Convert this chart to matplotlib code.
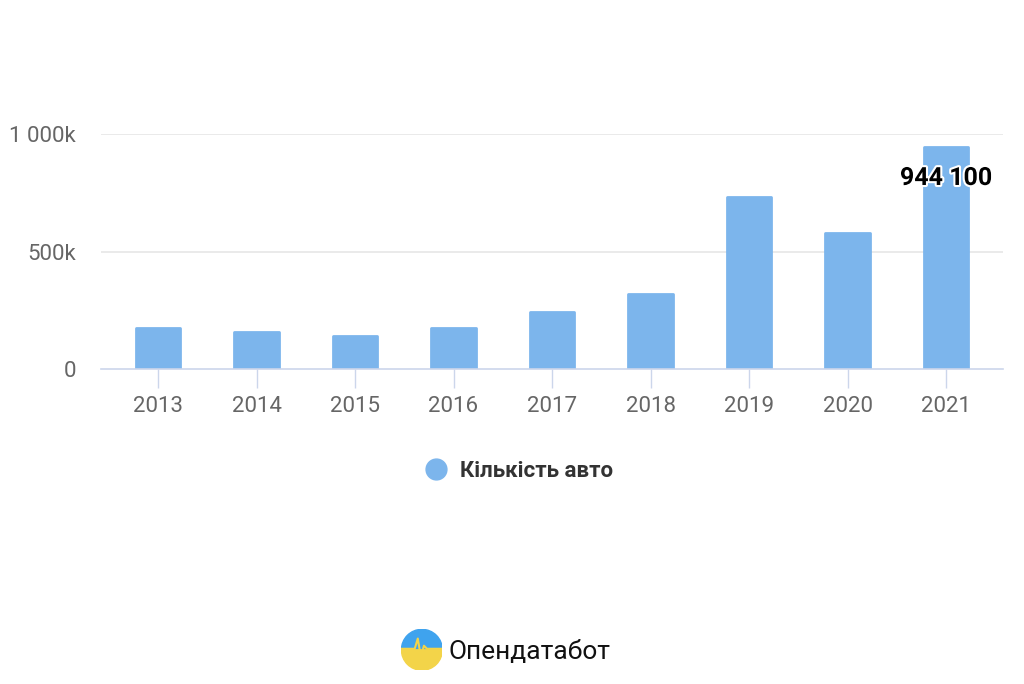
import matplotlib.pyplot as plt
from matplotlib.lines import Line2D
from matplotlib.patches import Wedge
import matplotlib.patheffects as pe

# ============= Data
years = ['2013', '2014', '2015', '2016', '2017', '2018', '2019', '2020', '2021']
cars = [178000, 161000, 141000, 178000, 244000, 320000, 732000, 581000, 944100]
yTicks = [0, 500000, 1000000]
yTickLabels = ['0', '500k', '1 000k']
seriesName = 'Кількість авто'
labelText = '944 100'
barColor = '#7cb5ec'

plt.rcParams['font.family'] = ['Roboto', 'DejaVu Sans']

fig = plt.figure(figsize=(10.24, 6.84), dpi=100)
ax = fig.add_axes([0.0986, 0.46, 0.881, 0.3437])

x = list(range(len(years)))
ax.bar(x, cars, width=0.45, color=barColor, edgecolor=barColor,
       linewidth=2, joinstyle='round', zorder=3)

ax.set_xlim(-0.58, len(years) - 1 + 0.58)
ax.set_ylim(0, 1000000)
ax.set_yticks(yTicks)
ax.set_yticklabels(yTickLabels)
ax.set_xticks(x)
ax.set_xticklabels(years)

for v in yTicks[1:]:
    ax.axhline(v, color='#e6e6e6', linewidth=1.2, zorder=1)

for s in ['top', 'right', 'left']:
    ax.spines[s].set_visible(False)
ax.spines['bottom'].set_color('#ccd6eb')
ax.spines['bottom'].set_linewidth(1.2)
ax.spines['bottom'].set_zorder(4)

ax.tick_params(axis='x', colors='#ccd6eb', length=14, width=1, pad=5,
               labelcolor='#666666', labelsize=16)
ax.tick_params(axis='y', length=0, pad=18, labelcolor='#666666', labelsize=16)
for lbl in ax.get_yticklabels():
    lbl.set_y(lbl.get_position()[1])

# data label on the last bar
ax.text(x[-1], cars[-1] - 130000, labelText, ha='center', va='center',
        fontsize=18, fontweight='bold', color='black', zorder=5,
        path_effects=[pe.withStroke(linewidth=3, foreground='white')])

# legend
handle = Line2D([], [], marker='o', linestyle='none', markersize=15,
                markerfacecolor=barColor, markeredgecolor=barColor)
fig.legend([handle], [seriesName], loc='center', bbox_to_anchor=(0.507, 0.312),
           frameon=False, handlelength=1, handletextpad=0.6,
           prop={'family': 'Roboto', 'weight': 'bold', 'size': 16},
           labelcolor='#333333')

# logo
logo = fig.add_axes([0.392, 0.02, 0.04, 0.06])
logo.set_xlim(-1, 1)
logo.set_ylim(-1, 1)
logo.set_aspect('equal')
logo.axis('off')
logo.add_patch(Wedge((0, 0), 1, 0, 180, color='#3fa3ee'))
logo.add_patch(Wedge((0, 0), 1, 180, 360, color='#f3d449'))
logo.plot([-1, -0.35, -0.2, -0.05, 0.1, 0.25, 1],
          [0.05, 0.05, 0.55, -0.35, 0.2, 0.05, 0.05],
          color='#f3d449', linewidth=1.5)
fig.text(0.438, 0.047, 'Опендатабот', fontsize=19, color='#111111',
         ha='left', va='center')

fig.savefig('out.png', dpi=100)
